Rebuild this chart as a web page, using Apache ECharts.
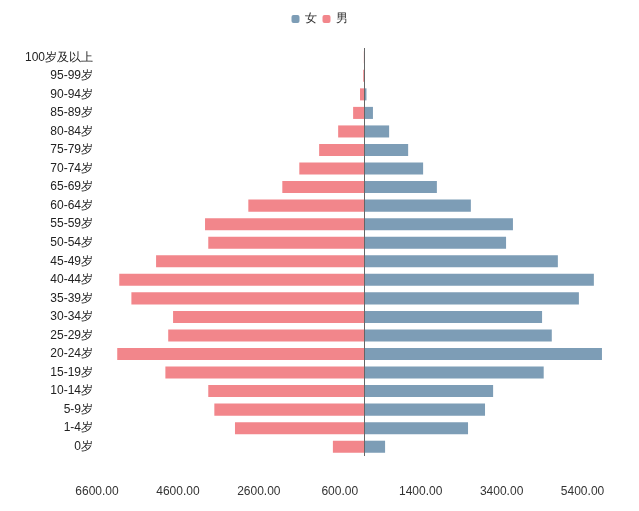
<!DOCTYPE html>
<html><head><meta charset="utf-8">
<script src="https://cdn.jsdelivr.net/npm/echarts@6/dist/echarts.min.js"></script>
<style>html,body{margin:0;padding:0;background:#fff}#c{width:639px;height:511px}</style>
</head><body><div id="c"></div>
<script>
const categories = ['0岁','1-4岁','5-9岁','10-14岁','15-19岁','20-24岁','25-29岁','30-34岁','35-39岁','40-44岁','45-49岁','50-54岁','55-59岁','60-64岁','65-69岁','70-74岁','75-79岁','80-84岁','85-89岁','90-94岁','95-99岁','100岁及以上'];
const female = [520,2570,2990,3190,4440,5880,4640,4400,5310,5680,4790,3510,3680,2640,1800,1460,1090,620,220,60,10,2];
const male = [770,3190,3700,3850,4910,6100,4840,4720,5750,6050,5140,3850,3930,2860,2020,1600,1110,640,270,100,20,5];
const chart = echarts.init(document.getElementById('c'));
chart.setOption({
  animation:false,
  legend:{top:8,left:'center',itemWidth:8,itemHeight:8,itemGap:6,textStyle:{fontSize:12,color:'#333'},data:['女','男']},
  grid:{left:97,right:16,top:48,bottom:55,containLabel:false},
  xAxis:{type:'value',min:-6600,max:6400,interval:2000,splitLine:{show:false},axisLine:{show:false},axisTick:{show:false},
    axisLabel:{fontSize:12,color:'#333',margin:30,formatter:v=>v>5400?'':Math.abs(v).toFixed(2)}},
  yAxis:{type:'category',data:categories,axisLine:{show:false},axisTick:{show:false},axisLabel:{fontSize:12,color:'#222',margin:4}},
  series:[
    {name:'女',type:'bar',stack:'a',data:female,barCategoryGap:'35%',itemStyle:{color:'#7d9db6'},
     markLine:{silent:true,symbol:'none',label:{show:false},lineStyle:{color:'#666',type:'solid',width:1},data:[{xAxis:0}]}},
    {name:'男',type:'bar',stack:'a',data:male.map(v=>-v),itemStyle:{color:'#f2868b'}}
  ]
});
</script></body></html>
